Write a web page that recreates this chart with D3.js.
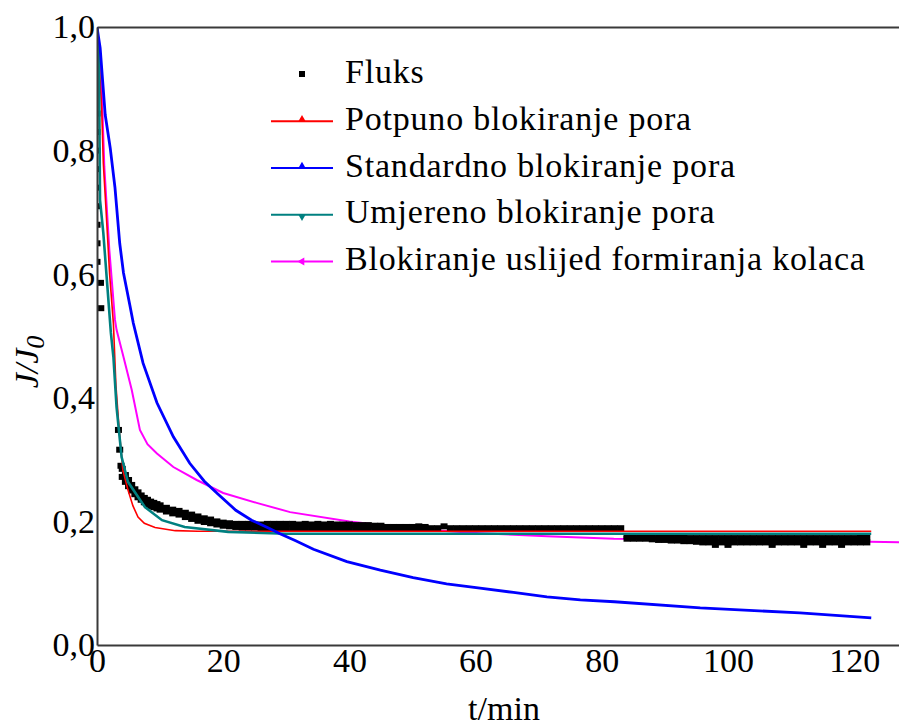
<!DOCTYPE html>
<html>
<head>
<meta charset="utf-8">
<script src="https://cdn.jsdelivr.net/npm/d3@7/dist/d3.min.js"></script>
<style>
  html, body { margin: 0; padding: 0; background: #fff; }
  svg { display: block; }
  text { font-family: "Liberation Serif", "Times New Roman", serif; fill: #000; }
</style>
</head>
<body>
<svg id="chart" width="899" height="727"></svg>
<script>
// ---------------- DATA ----------------
const xTicks = [0, 20, 40, 60, 80, 100, 120];
const yTicks = [0, 0.2, 0.4, 0.6, 0.8, 1.0];
const xTitle = "t/min";
const seriesNames = ["Fluks", "Potpuno blokiranje pora", "Standardno blokiranje pora",
                     "Umjereno blokiranje pora", "Blokiranje uslijed formiranja kolaca"];

// Experimental flux (J/J0) - scatter (where the measured band is thick, its upper and lower edge are both listed)
const fluksT = [0, 0, 0, 0, 0, 0, 0, 0, 0, 0.55, 0.6, 3.4, 3.6, 3.8,
  4, 4, 4.5, 4.5, 5, 5, 5.5, 5.5, 6, 6, 6.5, 6.5, 7, 7, 7.5, 7.5, 8, 8, 8.5, 8.5, 9, 9, 9.5, 9.5,
  10, 10, 11, 11, 12, 12, 13, 13, 14, 14, 15, 15, 16, 16, 17, 17, 18, 18, 19, 19, 20, 20,
  21, 21, 22, 22, 23, 23, 24, 24, 25, 25, 26, 26, 27, 27, 28, 28, 29, 29, 30, 30,
  31, 31, 32, 32, 33, 33, 34, 34, 35, 35, 36, 36, 37, 37, 38, 38, 39, 39, 40, 40,
  41, 41, 42, 42, 43, 43, 44, 44, 45, 45, 46, 46, 47, 47, 48, 48, 49, 49, 50, 50, 51, 51, 52, 52,
  53, 54, 55, 56, 57, 58, 59, 60, 61, 62, 63, 64, 65, 66, 67, 68, 69, 70,
  71, 72, 73, 74, 75, 76, 77, 78, 79, 80, 81, 82, 83,
  84, 84, 85, 85, 86, 86, 87, 87, 88, 88, 89, 89, 90, 90, 91, 91, 92, 92, 93, 93, 94, 94, 95, 95,
  96, 96, 97, 97, 98, 98, 99, 99, 100, 100, 101, 101, 102, 102, 103, 103, 104, 104, 105, 105,
  106, 106, 107, 107, 108, 108, 109, 109, 110, 110, 111, 111, 112, 112, 113, 113, 114, 114,
  115, 115, 116, 116, 117, 117, 118, 118, 119, 119, 120, 120, 121, 121, 122, 122,
  98, 100, 107, 112, 115, 118];
const fluksJ = [0.86, 0.83, 0.80, 0.77, 0.74, 0.71, 0.68, 0.65, 0.62, 0.586, 0.545, 0.348, 0.316, 0.29,
  0.285, 0.272, 0.275, 0.264, 0.267, 0.257, 0.259, 0.250, 0.252, 0.244, 0.247, 0.239, 0.242, 0.235, 0.238, 0.231,
  0.235, 0.228, 0.232, 0.225, 0.230, 0.223, 0.228, 0.221,
  0.226, 0.219, 0.222, 0.216, 0.219, 0.213, 0.217, 0.211, 0.214, 0.207, 0.211, 0.204, 0.208, 0.201, 0.205, 0.199,
  0.203, 0.197, 0.200, 0.195, 0.198, 0.193,
  0.197, 0.192, 0.196, 0.191, 0.196, 0.190, 0.196, 0.190, 0.195, 0.190, 0.195, 0.189, 0.196, 0.189, 0.196, 0.189,
  0.196, 0.189, 0.196, 0.189,
  0.196, 0.189, 0.195, 0.189, 0.196, 0.189, 0.195, 0.189, 0.196, 0.189, 0.195, 0.189, 0.196, 0.189, 0.195, 0.189,
  0.195, 0.189, 0.195, 0.189,
  0.194, 0.189, 0.194, 0.189, 0.194, 0.189, 0.193, 0.189, 0.193, 0.189, 0.191, 0.189, 0.191, 0.189, 0.191, 0.189,
  0.191, 0.189, 0.191, 0.189, 0.192, 0.189, 0.191, 0.189,
  0.189, 0.189, 0.192, 0.189, 0.189, 0.189, 0.189, 0.189, 0.189, 0.189, 0.189, 0.189, 0.189, 0.189, 0.189, 0.189,
  0.189, 0.189,
  0.189, 0.189, 0.189, 0.189, 0.189, 0.189, 0.189, 0.189, 0.189, 0.189, 0.189, 0.189, 0.189,
  0.176, 0.172, 0.176, 0.172, 0.176, 0.172, 0.175, 0.172, 0.175, 0.171, 0.175, 0.170, 0.174, 0.170, 0.174, 0.169,
  0.174, 0.169, 0.174, 0.168, 0.173, 0.168, 0.173, 0.167,
  0.173, 0.166, 0.173, 0.166, 0.173, 0.166, 0.173, 0.166, 0.173, 0.166, 0.173, 0.166, 0.173, 0.166, 0.173, 0.166,
  0.173, 0.166, 0.173, 0.166,
  0.173, 0.166, 0.173, 0.166, 0.173, 0.166, 0.173, 0.166, 0.173, 0.166, 0.173, 0.166, 0.173, 0.166, 0.173, 0.166,
  0.173, 0.166,
  0.173, 0.166, 0.173, 0.166, 0.173, 0.166, 0.173, 0.166, 0.173, 0.166, 0.173, 0.166, 0.174, 0.166, 0.174, 0.166,
  0.162, 0.162, 0.162, 0.162, 0.162, 0.162];

// Complete pore blocking model
const potpunoT = [0, 0.4, 0.74, 1.0, 1.4, 2.0, 2.6, 3.0, 3.5, 4.1, 4.9, 5.7, 6.5, 7.5, 9.2, 12.4, 16, 30, 60, 90, 122.7];
const potpunoJ = [1.0, 0.93, 0.87, 0.78, 0.71, 0.60, 0.52, 0.42, 0.35, 0.283, 0.251, 0.225, 0.207, 0.197, 0.190, 0.185, 0.184, 0.184, 0.184, 0.184, 0.184];

// Standard pore blocking model
const standardT = [0, 0.5, 1.3, 2.1, 2.85, 3.6, 4.2, 5.2, 5.75, 7.3, 9.5, 12.1, 14.7, 17, 19.2, 22, 24.5, 27, 29, 31.4, 34.3, 39.6,
  44.9, 50.1, 55.4, 60.7, 66, 71.3, 76.6, 82, 95.6, 111.4, 122.7];
const standardJ = [1.0, 0.966, 0.858, 0.804, 0.74, 0.65, 0.602, 0.55, 0.521, 0.456, 0.392, 0.337, 0.294, 0.265, 0.244, 0.218, 0.202, 0.190, 0.180, 0.169, 0.155, 0.135,
  0.121, 0.109, 0.099, 0.092, 0.085, 0.078, 0.073, 0.070, 0.060, 0.052, 0.044];

// Intermediate pore blocking model
const umjerenoT = [0, 0.3, 0.48, 1.0, 1.6, 2.2, 2.6, 3.1, 3.9, 4.9, 7.6, 10.3, 13.9, 20.8, 30, 60, 90, 122.7];
const umjerenoJ = [1.0, 0.96, 0.72, 0.667, 0.586, 0.505, 0.466, 0.385, 0.304, 0.264, 0.223, 0.202, 0.191, 0.183, 0.180, 0.180, 0.180, 0.180];

// Cake formation model
const kolacT = [0, 0.3, 0.63, 1.16, 1.95, 2.85, 3.1, 4.2, 5.5, 6.8, 8, 9.5, 12.1, 15.8, 20, 25.3, 30.6, 40, 44.9, 52.8, 60.7, 71.3, 81.9, 100, 122.5, 128];
const kolacJ = [1.0, 0.97, 0.935, 0.774, 0.64, 0.526, 0.51, 0.466, 0.413, 0.348, 0.325, 0.31, 0.288, 0.267, 0.246, 0.23, 0.215, 0.200, 0.194, 0.186, 0.181, 0.176, 0.172, 0.170, 0.167, 0.166];

// ---------------- CHART ----------------
const svg = d3.select("#chart");
const L = 97, R = 899, T = 27, B = 645;
const serif = "'Liberation Serif', 'Times New Roman', serif";

const x = d3.scaleLinear().domain([0, 127.1]).range([L, R]);
const y = d3.scaleLinear().domain([0, 1]).range([B, T]);

const locale = d3.formatLocale({decimal: ",", thousands: ".", grouping: [3], currency: ["", ""]});
const fmtY = locale.format(".1f");

svg.append("defs").append("clipPath").attr("id", "plotClip")
  .append("rect").attr("x", L).attr("y", T).attr("width", R - L).attr("height", B - T);

const plot = svg.append("g").attr("clip-path", "url(#plotClip)");

const line = d3.line().x(d => x(d[0])).y(d => y(d[1]));
const zip = (a, b) => a.map((v, i) => [v, b[i]]);

const colors = {fluks: "#000000", potpuno: "#ff0000", standard: "#0000ff", umjereno: "#008080", kolac: "#ff00ff"};

// cake (magenta) drawn beneath the flux points
plot.append("path").datum(zip(kolacT, kolacJ))
  .attr("d", line).attr("fill", "none").attr("stroke", colors.kolac).attr("stroke-width", 2);

// flux points
plot.append("g").selectAll("rect").data(zip(fluksT, fluksJ)).join("rect")
  .attr("x", d => x(d[0]) - 3.5).attr("y", d => y(d[1]) - 3)
  .attr("width", 7).attr("height", 6).attr("fill", colors.fluks);

plot.append("path").datum(zip(potpunoT, potpunoJ))
  .attr("d", line).attr("fill", "none").attr("stroke", colors.potpuno).attr("stroke-width", 1.6);
plot.append("path").datum(zip(umjerenoT, umjerenoJ))
  .attr("d", line).attr("fill", "none").attr("stroke", colors.umjereno).attr("stroke-width", 2.6);
plot.append("path").datum(zip(standardT, standardJ))
  .attr("d", line).attr("fill", "none").attr("stroke", colors.standard).attr("stroke-width", 2.8);

// axes
const axisColor = "#3a3a3a";
const gx = svg.append("g").attr("transform", `translate(0,${B})`)
  .call(d3.axisBottom(x).tickValues(xTicks).tickSize(0).tickPadding(3).tickSizeOuter(0));
const gy = svg.append("g").attr("transform", `translate(${L},0)`)
  .call(d3.axisLeft(y).tickValues(yTicks).tickFormat(fmtY).tickSize(0).tickPadding(2).tickSizeOuter(0));
const gt = svg.append("g").attr("transform", `translate(0,${T})`)
  .call(d3.axisTop(x).tickValues([]).tickSize(0).tickSizeOuter(0));
[gx, gy, gt].forEach(g => {
  g.attr("font-family", serif);
  g.select(".domain").attr("stroke", axisColor).attr("stroke-width", 2);
  g.selectAll("text").style("font-family", serif).attr("font-size", 34).attr("fill", "#000");
});

// axis titles
svg.append("text").attr("x", 504).attr("y", 720).attr("text-anchor", "middle")
  .style("font-family", serif).attr("font-size", 34).text(xTitle);
const yt = svg.append("text").attr("transform", "translate(38,362) rotate(-90)")
  .attr("text-anchor", "middle").style("font-family", serif).attr("font-size", 34).attr("font-style", "italic");
yt.append("tspan").text("J/J");
yt.append("tspan").attr("font-size", 26).attr("dy", 6).text("0");

// legend
const legendItems = [
  {name: seriesNames[0], color: colors.fluks, type: "square"},
  {name: seriesNames[1], color: colors.potpuno, type: "up"},
  {name: seriesNames[2], color: colors.standard, type: "up"},
  {name: seriesNames[3], color: colors.umjereno, type: "down"},
  {name: seriesNames[4], color: colors.kolac, type: "left"}
];
const lg = svg.append("g");
legendItems.forEach((it, i) => {
  const base = 83 + i * 46.75;
  const cy = base - 8.5;
  const g = lg.append("g");
  if (it.type === "square") {
    g.append("rect").attr("x", 299).attr("y", base - 12).attr("width", 6).attr("height", 6).attr("fill", it.color);
  } else {
    g.append("line").attr("x1", 271).attr("x2", 333).attr("y1", cy).attr("y2", cy)
      .attr("stroke", it.color).attr("stroke-width", 2);
    const rot = it.type === "up" ? 0 : (it.type === "down" ? 180 : -90);
    g.append("path").attr("d", d3.symbol().type(d3.symbolTriangle).size(28)())
      .attr("transform", `translate(302,${cy - (it.type === "up" ? 1.5 : (it.type === "down" ? -1.5 : 0))}) rotate(${rot})`)
      .attr("fill", it.color);
  }
  g.append("text").attr("x", 345).attr("y", base).style("font-family", serif).attr("font-size", 34)
    .attr("letter-spacing", 0.8).text(it.name);
});
</script>
</body>
</html>
